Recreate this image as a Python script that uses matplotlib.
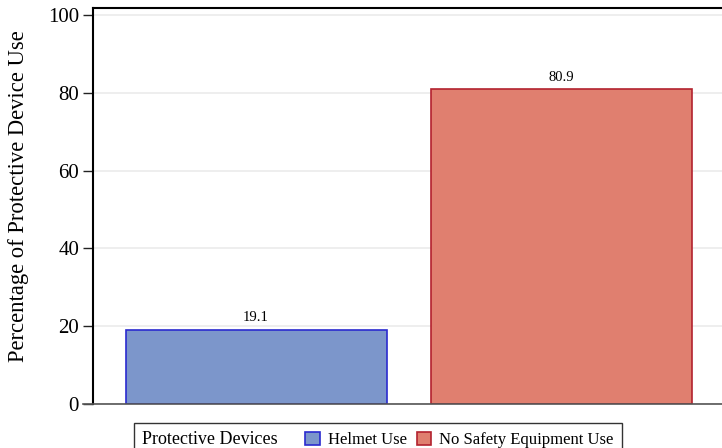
import matplotlib
matplotlib.use("Agg")
import matplotlib.pyplot as plt
from matplotlib.patches import Patch
from matplotlib.offsetbox import HPacker

# data
categories = ["Helmet Use", "No Safety Equipment Use"]
values = [19.1, 80.9]
fill_colors = ["#7C96CB", "#E07F6F"]
edge_colors = ["#2A2ACF", "#B3222F"]
y_ticks = [0, 20, 40, 60, 80, 100]

plt.rcParams["font.family"] = ["Liberation Serif", "DejaVu Serif"]

fig = plt.figure(figsize=(7.22, 4.48), dpi=100)
ax = fig.add_axes([93 / 722, 1 - 404 / 448, 1 - 93 / 722, 396 / 448])

x = list(range(len(categories)))
bars = ax.bar(x, values, width=0.855, color=fill_colors,
              edgecolor=edge_colors, linewidth=1.2, zorder=3)

for bar, v in zip(bars, values):
    ax.annotate(f"{v:.1f}", (bar.get_x() + bar.get_width() / 2, v),
                xytext=(0, 4), textcoords="offset points",
                ha="center", va="bottom", fontsize=10.5)

ax.set_xlim(-0.534, 1.525)
ax.set_ylim(0, 101.8)
ax.set_yticks(y_ticks)
ax.set_xticks([])
ax.tick_params(axis="y", length=7, width=1, labelsize=15, color="#222222", pad=3)
ax.yaxis.grid(True, color="#EBEBEB", linewidth=1.2, zorder=0)
ax.set_axisbelow(True)
ax.set_ylabel("Percentage of Protective Device Use", fontsize=16.3)
ax.yaxis.set_label_coords(-0.102, 0.525)

ax.spines["right"].set_visible(False)
ax.spines["left"].set_linewidth(1.5)
ax.spines["left"].set_color("black")
ax.spines["top"].set_linewidth(1.5)
ax.spines["top"].set_color("black")
ax.spines["bottom"].set_color("#555555")
ax.spines["bottom"].set_linewidth(1.2)
ax.spines["bottom"].set_bounds(-0.534 - 10 / 305.5, 1.525)
ax.spines["bottom"].set_zorder(4)

handles = [Patch(facecolor=c, edgecolor=e, linewidth=1.2)
           for c, e in zip(fill_colors, edge_colors)]
leg = fig.legend(handles, categories, loc="upper left",
                 bbox_to_anchor=(134 / 722, 1 - 423 / 448), ncol=2,
                 title="Protective Devices", title_fontsize=13,
                 fontsize=12, frameon=True, fancybox=False, edgecolor="black",
                 handlelength=0.85, handleheight=0.85, handletextpad=0.5,
                 columnspacing=0.6, borderpad=0.5, borderaxespad=0)
leg.get_frame().set_linewidth(1.0)

# put legend title inline, left of the entries
fs = leg._fontsize
leg._legend_box = HPacker(pad=leg.borderpad * fs, sep=1.65 * fs, align="center",
                          children=[leg._legend_title_box, leg._legend_handle_box])
leg._legend_box.set_figure(fig)
leg._legend_box.set_offset(leg._findoffset)

fig.savefig("out.png", dpi=100)
